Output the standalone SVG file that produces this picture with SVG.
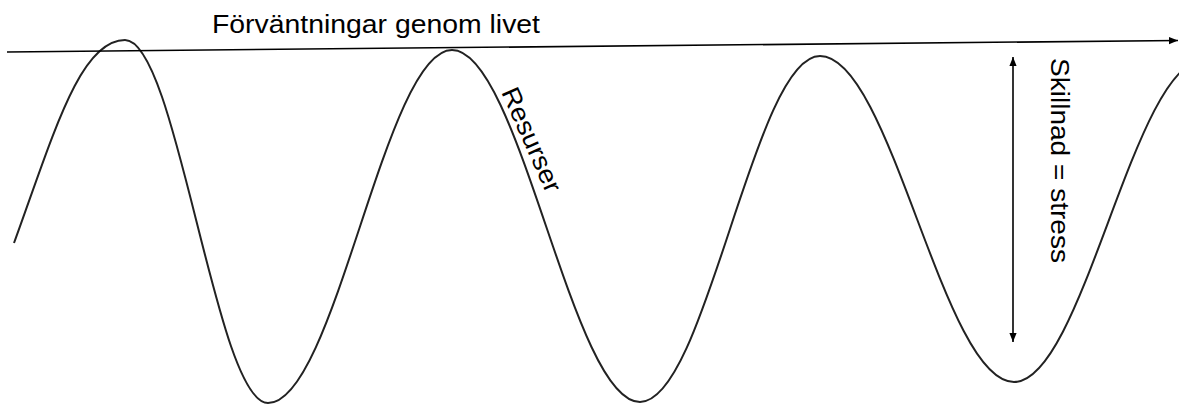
<svg xmlns="http://www.w3.org/2000/svg" width="1179" height="404" viewBox="0 0 1179 404">
<style>
.lbl{font-family:"Liberation Sans",Arial,sans-serif;font-size:25.5px;fill:#000}
.ln{fill:none;stroke:#000;stroke-width:1.6}
.wave{fill:none;stroke:#222;stroke-width:2}
</style>
<defs>
<marker id="ah" viewBox="0 0 10 10" refX="10" refY="5" markerWidth="9" markerHeight="9" markerUnits="userSpaceOnUse" orient="auto-start-reverse">
<path d="M0,1 L10,5 L0,9 Z" fill="#000"/>
</marker>
</defs>
<rect width="1179" height="404" fill="#fff"/>
<g id="resurser-curve">
<path class="wave" d="M14,243 C54,133 80,40 125,40 C177,40 216,403 268,403 C335,403 385,50 452,50 C520,50 572,402 640,402 C706,402 754,56 820,56 C891,56 943,382 1014,382 C1083,382 1134,60 1204,60"/>
<text class="lbl" transform="translate(501,92) rotate(66)" textLength="112" lengthAdjust="spacingAndGlyphs">Resurser</text>
</g>
<g id="forvantningar">
<line class="ln" x1="7" y1="52" x2="1178" y2="40.5" marker-end="url(#ah)"/>
<text class="lbl" x="212" y="33" textLength="328" lengthAdjust="spacingAndGlyphs">Förväntningar genom livet</text>
</g>
<g id="connectors">
<line class="ln" x1="1013" y1="57" x2="1013" y2="342" marker-start="url(#ah)" marker-end="url(#ah)"/>
</g>
<g id="skillnad">
<text class="lbl" transform="translate(1051,58) rotate(90)" textLength="205" lengthAdjust="spacingAndGlyphs">Skillnad = stress</text>
</g>
</svg>
